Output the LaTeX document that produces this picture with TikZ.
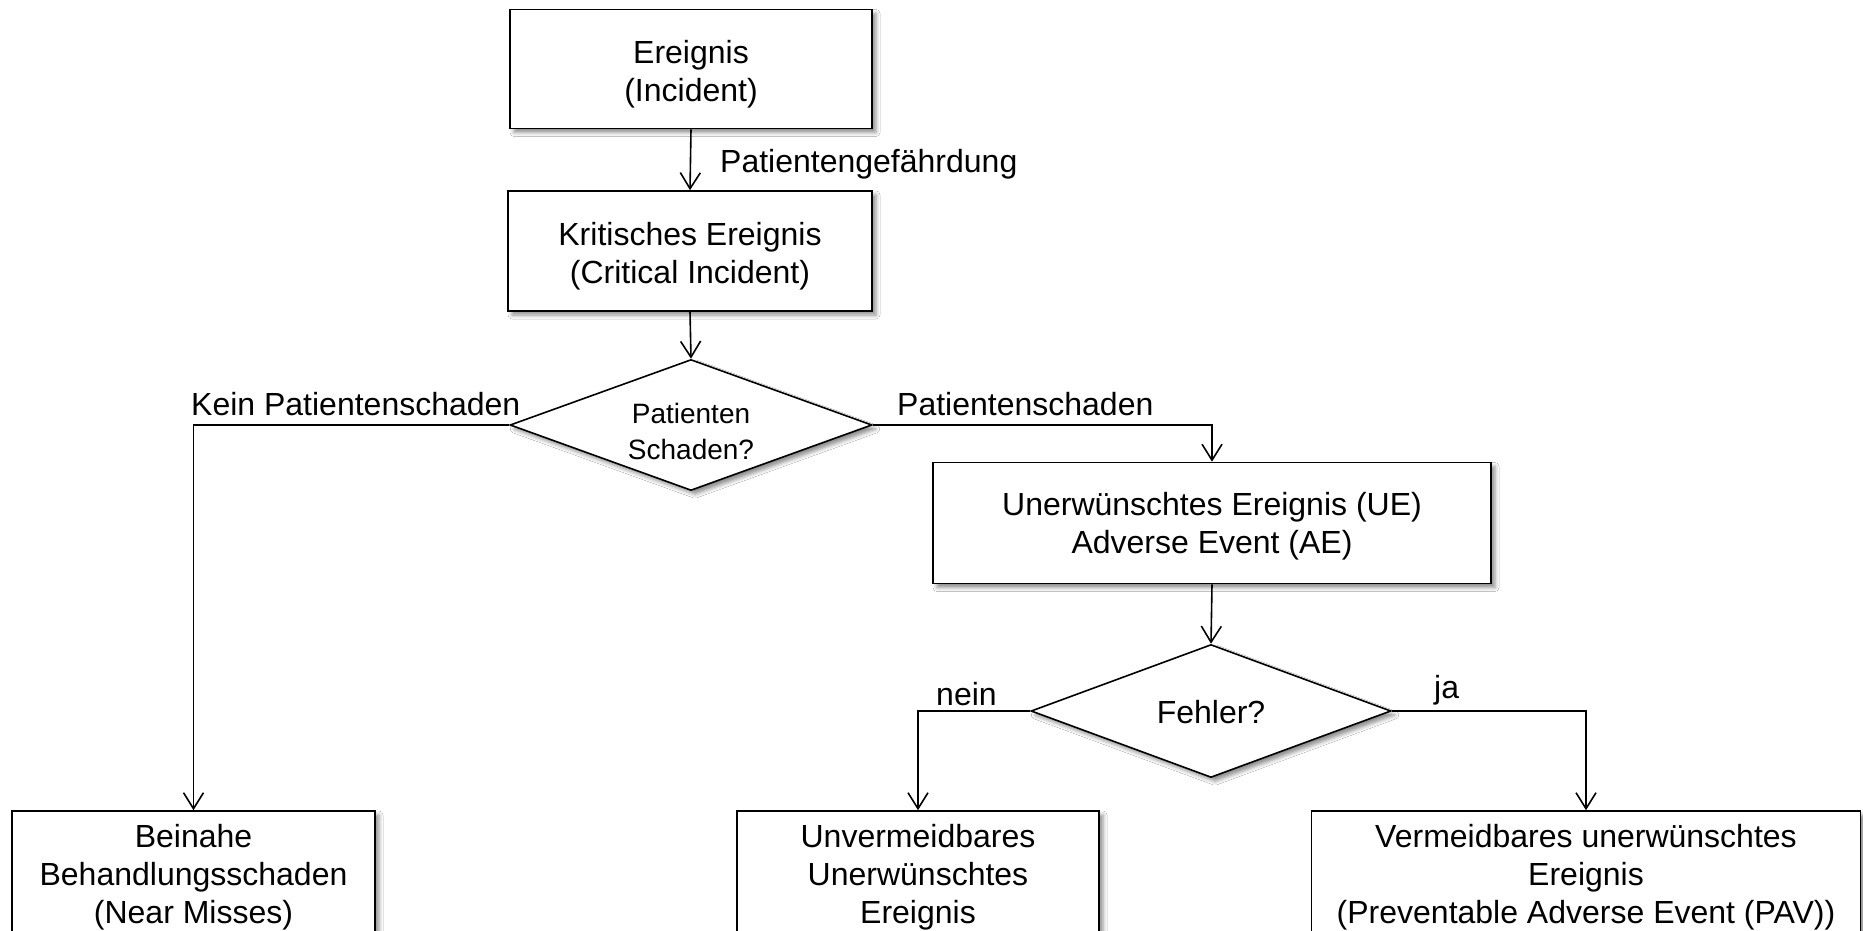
\documentclass[tikz,border=0pt]{standalone}
\usepackage{fontspec}
\setmainfont{Liberation Sans}
\usetikzlibrary{shapes.geometric,arrows.meta,shadows.blur}

\tikzset{
  shade3d/.style={blur shadow={shadow xshift=4pt, shadow yshift=-4pt,
      shadow blur radius=4pt, shadow opacity=45}},
  caption/.style={align=center, inner sep=0pt, yshift=-5pt,
      font=\fontsize{32}{38}\selectfont},
  box/.style={draw=black, line width=1.6pt, fill=white, shade3d, inner sep=0pt},
  decision/.style={diamond, draw=black, line width=1.6pt, fill=white, shade3d,
      inner sep=0pt},
  arr/.style={line width=1.6pt, -{Straight Barb[length=16pt,width=20pt,line width=1.6pt]}},
  lbl/.style={inner sep=0pt, font=\fontsize{32}{38}\selectfont},
}

\begin{document}
\begin{tikzpicture}[x=1pt, y=-1pt]
  \useasboundingbox[fill=white] (0,0) rectangle (1863,931);

  % process boxes
  \node[box, minimum width=362pt, minimum height=119pt,
        label={[caption]center:Ereignis\\(Incident)}] (inc) at (691,69) {};
  \node[box, minimum width=364pt, minimum height=120pt,
        label={[caption]center:Kritisches Ereignis\\(Critical Incident)}] (crit) at (690,251) {};
  \node[decision, minimum width=362pt, minimum height=131pt,
        label={[caption, font=\fontsize{28}{36}\selectfont, yshift=-1pt]center:Patienten\\Schaden?}]
        (harm) at (691,425) {};
  \node[box, minimum width=558pt, minimum height=121pt,
        label={[caption, yshift=2pt]center:Unerwünschtes Ereignis (UE)\\Adverse Event (AE)}] (ae) at (1212,523) {};
  \node[decision, minimum width=360pt, minimum height=133pt,
        label={[caption, yshift=4pt]center:Fehler?}] (err) at (1211,711) {};

  % outcome boxes (running off the lower edge)
  \node[box, minimum width=363pt, minimum height=124pt,
        label={[caption, yshift=1pt]center:Beinahe\\Behandlungsschaden\\(Near Misses)}] (near) at (193.5,873) {};
  \node[box, minimum width=362pt, minimum height=124pt,
        label={[caption, yshift=1pt]center:Unvermeidbares\\Unerwünschtes\\Ereignis}] (unav) at (918,873) {};
  \node[box, minimum width=549pt, minimum height=124pt,
        label={[caption, yshift=1pt]center:Vermeidbares unerwünschtes\\Ereignis\\(Preventable Adverse Event (PAV))}] (pav) at (1586,873) {};

  % connectors
  \draw[arr] (inc.south) -- (crit.north);
  \draw[arr] (crit.south) -- (harm.north);
  \draw[arr] (harm.west) -| (near.north);
  \draw[arr] (harm.east) -| (ae.north);
  \draw[arr] (ae.south) -- (err.north);
  \draw[arr] (err.west) -| (unav.north);
  \draw[arr] (err.east) -| (pav.north);

  % connector labels
  \node[lbl, anchor=west] (lgef) at (720,164) {Patientengefährdung};
  \node[lbl, anchor=west] (lkein) at (191,404) {Kein Patientenschaden};
  \node[lbl, anchor=west] (lja1) at (897,404) {Patientenschaden};
  \node[lbl, anchor=west] (lnein) at (936,694) {nein};
  \node[lbl, anchor=west] (lja) at (1434,690) {ja};
\end{tikzpicture}
\end{document}
